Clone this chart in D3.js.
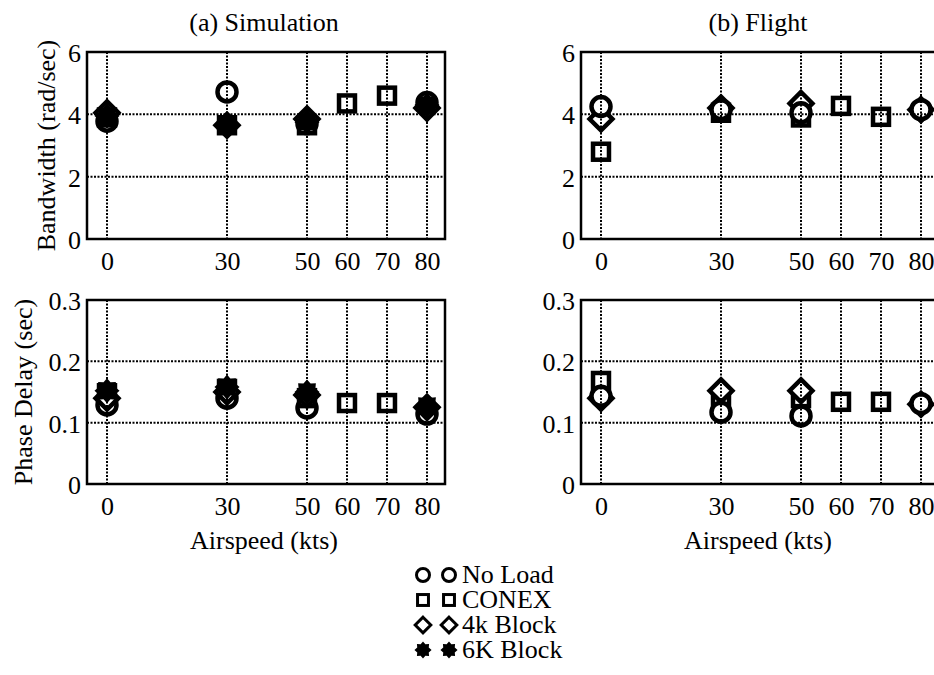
<!DOCTYPE html>
<html>
<head>
<meta charset="utf-8">
<script src="https://cdn.jsdelivr.net/npm/d3@7"></script>
<style>
  body { margin: 0; background: #fff; }
  text { font-family: "Liberation Serif", "Times New Roman", serif; fill: #000; }
</style>
</head>
<body>
<script>
// airspeed ticks (kts)
var speedTicks = [0, 30, 50, 60, 70, 80];
var bwTicks = [0, 2, 4, 6];
var pdTicks = [0, 0.1, 0.2, 0.3];

var loads = ["No Load", "CONEX", "4k Block", "6K Block"];
var shapes = ["circle", "square", "diamond", "star"];

// simulation
var simSpeedOther = [0, 30, 50, 80];
var simSpeedConex = [0, 30, 50, 60, 70];
var simBwNoLoad = [3.78, 4.72, 3.7, 4.38];
var simBwConex = [3.9, 3.65, 3.65, 4.35, 4.6];
var simBw4k = [4.05, 3.65, 3.85, 4.2];
var simBw6k = [3.95, 3.65, 3.75, 4.3];
var simPdNoLoad = [0.129, 0.14, 0.124, 0.114];
var simPdConex = [0.148, 0.155, 0.14, 0.132, 0.132];
var simPd4k = [0.14, 0.15, 0.145, 0.125];
var simPd6k = [0.152, 0.158, 0.15, 0.127];

// flight
var fltSpeedOther = [0, 30, 50, 80];
var fltSpeedConex = [0, 30, 50, 60, 70];
var fltBwNoLoad = [4.25, 4.15, 4.05, 4.15];
var fltBwConex = [2.8, 4.05, 3.9, 4.27, 3.92];
var fltBw4k = [3.85, 4.2, 4.35, 4.15];
var fltPdNoLoad = [0.143, 0.117, 0.111, 0.131];
var fltPdConex = [0.168, 0.14, 0.14, 0.134, 0.134];
var fltPd4k = [0.14, 0.152, 0.152, 0.13];

var width = 934, height = 675;
var svg = d3.select("body").append("svg")
  .attr("width", width)
  .attr("height", height);

var fs = 26;

function pts(xs, ys, k) {
  return ys.map(function(v, i) { return {x: xs[i], y: v, k: k}; });
}

function marker(sel, shape, s, sw) {
  // s = nominal size, sw = stroke width
  if (shape == "circle") {
    sel.append("circle").attr("r", s * 0.5)
      .attr("fill", "#fff").attr("stroke", "#000").attr("stroke-width", sw);
  } else if (shape == "square") {
    sel.append("rect").attr("x", -s * 0.42).attr("y", -s * 0.42)
      .attr("width", s * 0.84).attr("height", s * 0.84)
      .attr("fill", "#fff").attr("stroke", "#000").attr("stroke-width", sw);
  } else if (shape == "diamond") {
    var d = s * 0.6;
    sel.append("path").attr("d", "M0," + (-d) + "L" + d + ",0L0," + d + "L" + (-d) + ",0Z")
      .attr("fill", "#fff").attr("stroke", "#000").attr("stroke-width", sw)
      .attr("stroke-linejoin", "miter");
  } else {
    var p = [];
    for (var i = 0; i < 16; i++) {
      var r = i % 2 == 0 ? s * 0.66 : s * 0.48;
      var a = i * Math.PI / 8 - Math.PI / 2;
      p.push([r * Math.cos(a), r * Math.sin(a)]);
    }
    sel.append("path").attr("d", "M" + p.join("L") + "Z").attr("fill", "#000");
  }
}

function panel(opt) {
  var w = 358, h = opt.h;
  var x = d3.scaleLinear().domain([-5, 84.5]).range([0, w]);
  var y = d3.scaleLinear().domain(opt.ydom).range([h, 0]);
  var g = svg.append("g").attr("transform", "translate(" + opt.left + "," + opt.top + ")");

  // markers
  opt.series.forEach(function(s) {
    g.selectAll(null).data(s).enter().append("g")
      .attr("transform", function(d) { return "translate(" + x(d.x) + "," + y(d.y) + ")"; })
      .each(function(d) { marker(d3.select(this), shapes[d.k], 19, 4.5); });
  });

  // dotted grid on top of the markers
  g.append("g").selectAll("line").data(speedTicks).enter().append("line")
    .attr("x1", function(d) { return x(d); }).attr("x2", function(d) { return x(d); })
    .attr("y1", 0).attr("y2", h)
    .attr("stroke", "#000").attr("stroke-width", 2).attr("stroke-dasharray", "2,1.5");
  g.append("g").selectAll("line").data(opt.yticks.slice(1, -1)).enter().append("line")
    .attr("y1", function(d) { return y(d); }).attr("y2", function(d) { return y(d); })
    .attr("x1", 0).attr("x2", w)
    .attr("stroke", "#000").attr("stroke-width", 2).attr("stroke-dasharray", "2,1.5");

  g.append("rect").attr("width", w).attr("height", h)
    .attr("fill", "none").attr("stroke", "#000").attr("stroke-width", 2.5);

  var xa = g.append("g").attr("transform", "translate(0," + h + ")")
    .call(d3.axisBottom(x).tickValues(speedTicks).tickSize(0).tickPadding(13));
  var ya = g.append("g")
    .call(d3.axisLeft(y).tickValues(opt.yticks).tickSize(0).tickPadding(6)
      .tickFormat(function(d) { return d == 0 ? "0" : d3.format(opt.fmt)(d); }));
  [xa, ya].forEach(function(a) {
    a.select(".domain").remove();
    a.selectAll("text").style("font-family", "Liberation Serif").style("font-size", fs + "px");
  });
  ya.selectAll("text").attr("dy", "0.36em");

  if (opt.title) {
    g.append("text").attr("x", w / 2 - 2).attr("y", -21)
      .attr("text-anchor", "middle").style("font-size", fs + "px").text(opt.title);
  }
  if (opt.ylabel) {
    g.append("text").attr("transform", "translate(" + opt.ylx + "," + (h / 2) + ") rotate(-90)")
      .attr("text-anchor", "middle").style("font-size", fs + "px").text(opt.ylabel);
  }
  if (opt.xlabel) {
    g.append("text").attr("x", w / 2 - 2).attr("y", h + 65)
      .attr("text-anchor", "middle").style("font-size", fs + "px").text(opt.xlabel);
  }
}

panel({left: 87, top: 52, h: 187, ydom: [0, 6], yticks: bwTicks, fmt: "d",
  title: "(a) Simulation", ylabel: "Bandwidth (rad/sec)", ylx: -32,
  series: [pts(simSpeedOther, simBwNoLoad, 0), pts(simSpeedConex, simBwConex, 1),
           pts(simSpeedOther, simBw4k, 2), pts(simSpeedOther, simBw6k, 3)]});
panel({left: 87, top: 300, h: 184, ydom: [0, 0.3], yticks: pdTicks, fmt: ".1f",
  ylabel: "Phase Delay (sec)", ylx: -55, xlabel: "Airspeed (kts)",
  series: [pts(simSpeedOther, simPdNoLoad, 0), pts(simSpeedConex, simPdConex, 1),
           pts(simSpeedOther, simPd4k, 2), pts(simSpeedOther, simPd6k, 3)]});
panel({left: 581, top: 52, h: 187, ydom: [0, 6], yticks: bwTicks, fmt: "d",
  title: "(b) Flight",
  series: [pts(fltSpeedConex, fltBwConex, 1), pts(fltSpeedOther, fltBw4k, 2),
           pts(fltSpeedOther, fltBwNoLoad, 0)]});
panel({left: 581, top: 300, h: 184, ydom: [0, 0.3], yticks: pdTicks, fmt: ".1f",
  xlabel: "Airspeed (kts)",
  series: [pts(fltSpeedConex, fltPdConex, 1), pts(fltSpeedOther, fltPd4k, 2),
           pts(fltSpeedOther, fltPdNoLoad, 0)]});

// legend
var lg = svg.append("g").attr("transform", "translate(423,575)");
loads.forEach(function(name, i) {
  var row = lg.append("g").attr("transform", "translate(0," + (i * 25) + ")");
  marker(row.append("g"), shapes[i], 13, 3);
  marker(row.append("g").attr("transform", "translate(26,0)"), shapes[i], 13, 3);
  row.append("text").attr("x", 39).attr("y", 8).style("font-size", fs + "px").text(name);
});
</script>
</body>
</html>
